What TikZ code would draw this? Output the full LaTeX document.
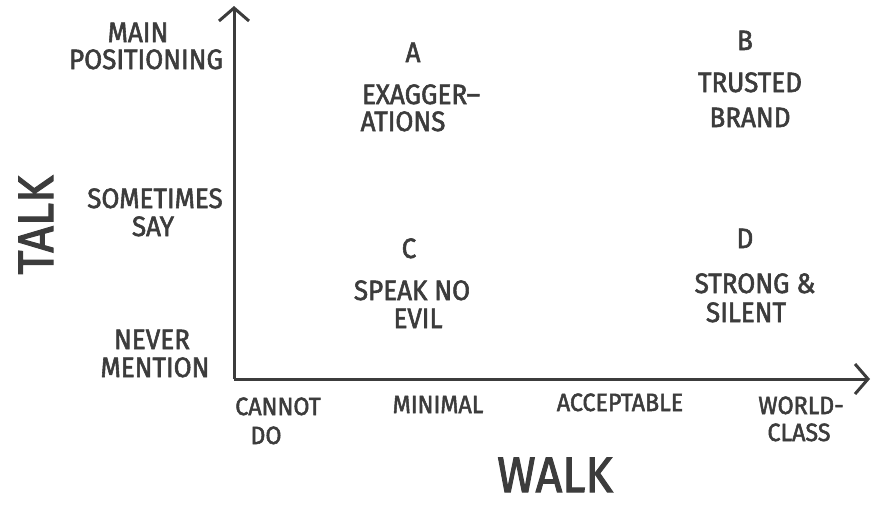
\documentclass[tikz,border=0pt]{standalone}
\usepackage{fontspec}
\setmainfont{Fira Sans}
\newfontfamily\hand[FakeBold=2,FakeStretch=0.93]{Fira Sans}
\usetikzlibrary{arrows.meta}
\definecolor{ink}{HTML}{3C3C3C}
\tikzset{
  lbl/.style={text=ink, font=\hand\fontsize{28}{30}\selectfont, anchor=base, inner sep=0pt},
  xl/.style={text=ink, font=\hand\fontsize{25}{28}\selectfont, anchor=base, inner sep=0pt},
  big/.style={text=ink, font=\hand\fontsize{50}{54}\selectfont, anchor=base, inner sep=0pt},
  axis/.style={draw=ink, line width=3pt, -{Straight Barb[length=13pt,width=30pt,line width=3pt]}}
}
\begin{document}
\begin{tikzpicture}[x=1pt,y=-1pt]
\useasboundingbox (0,0) rectangle (872,507);
\coordinate (O) at (234,379);
\coordinate (Ytop) at (234,6);
\coordinate (Xend) at (870,379);
\draw[axis] (O) -- (Ytop);
\draw[axis] (O) -- (Xend);
% y labels
\node[lbl] (main1) at (138,42) {MAIN};
\node[lbl] (main2) at (146,69) {POSITIONING};
\node[lbl] (some1) at (155,208) {SOMETIMES};
\node[lbl] (some2) at (153,236) {SAY};
\node[lbl] (never1) at (152,349) {NEVER};
\node[lbl] (never2) at (155,377) {MENTION};
\node[big, rotate=90] (talk) at (53,225) {TALK};
% x labels
\node[xl] (cannot1) at (278,415) {CANNOT};
\node[xl] (cannot2) at (266,444) {DO};
\node[xl] (minimal) at (438,413) {MINIMAL};
\node[xl] (accept) at (620,411) {ACCEPTABLE};
\node[xl] (world1) at (801,414) {WORLD-};
\node[xl] (world2) at (799,441) {CLASS};
\node[big] (walk) at (555,492) {WALK};
% quadrants
\node[lbl] (qa0) at (413,62) {A};
\node[lbl] (qa1) at (421,104) {EXAGGER–};
\node[lbl] (qa2) at (403,131) {ATIONS};
\node[lbl] (qb0) at (745,50) {B};
\node[lbl] (qb1) at (750,92) {TRUSTED};
\node[lbl] (qb2) at (750,127) {BRAND};
\node[lbl] (qc0) at (409,258) {C};
\node[lbl] (qc1) at (412,300) {SPEAK NO};
\node[lbl] (qc2) at (418,328) {EVIL};
\node[lbl] (qd0) at (745,248) {D};
\node[lbl] (qd1) at (755,293) {STRONG \&};
\node[lbl] (qd2) at (746,322) {SILENT};
\end{tikzpicture}
\end{document}
